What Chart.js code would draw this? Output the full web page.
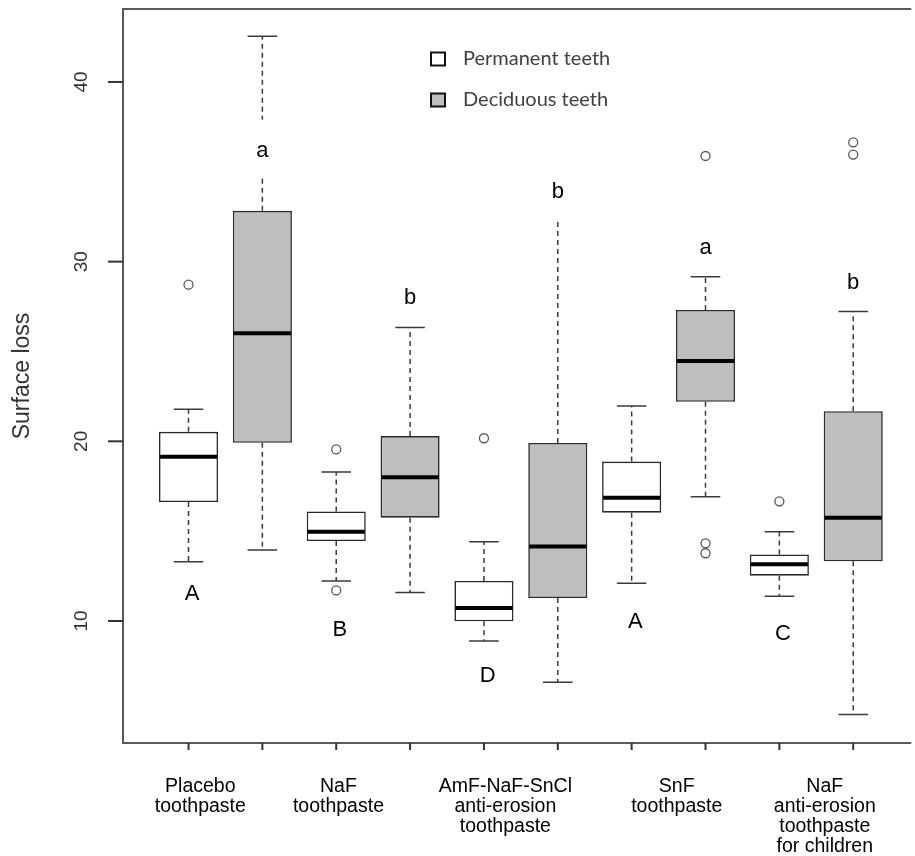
<!DOCTYPE html>
<html><head><meta charset="utf-8">
<script src="https://cdn.jsdelivr.net/npm/chart.js@4/dist/chart.umd.min.js"></script>
<style>html,body{margin:0;padding:0;background:#fff;overflow:hidden}#wrap{width:915px;height:856px}</style>
</head><body><div id="wrap"><canvas id="c" width="915" height="856"></canvas></div>
<script>
// ---------- data ----------
const treatments = [["Placebo","toothpaste"],["NaF","toothpaste"],["AmF-NaF-SnCl","anti-erosion","toothpaste"],["SnF","toothpaste"],["NaF","anti-erosion","toothpaste","for children"]];
const treatmentLabelX = [1.16, 3.03, 5.29, 7.61, 9.615];
const groups = ["Permanent teeth","Deciduous teeth"];
// 10 boxes: alternating permanent / deciduous per treatment
const whiskerLow  = [13.30, 13.95, 12.23, 11.58,  8.89,  6.59, 12.10, 16.92, 11.38,  4.80];
const q1          = [16.62, 19.92, 14.45, 15.75,  9.98, 11.28, 16.03, 22.20, 12.52, 13.32];
const median      = [19.14, 26.01, 14.97, 18.00, 10.73, 14.15, 16.86, 24.47, 13.16, 15.74];
const q3          = [20.53, 32.83, 16.10, 20.29, 12.23, 19.91, 18.87, 27.31, 13.70, 21.68];
const whiskerHigh = [21.78, 42.55, 18.29, 26.34, 14.41, 34.20, 21.96, 29.16, 14.97, 27.22];
const outliers    = [[28.72], [], [19.55, 11.70], [], [20.17], [], [], [35.88, 14.32, 13.77], [16.66], [36.64, 35.96]];
const letters     = ["A","a","B","b","D","b","A","a","C","b"];
const letterBaseline = [11.17, 35.84, 9.17, 27.64, 6.62, 33.54, 9.62, 30.42, 8.94, 28.48];
const yTicks = [10, 20, 30, 40];
const yTitle = "Surface loss";

// ---------- build ----------
const boxPos = whiskerLow.map((_, i) => i + 1);
const permIdx = boxPos.filter((_, i) => i % 2 === 0).map(p => p - 1);
const decIdx  = boxPos.filter((_, i) => i % 2 === 1).map(p => p - 1);
const boxData = idx => idx.map(i => ({x: boxPos[i], y: [q1[i], q3[i]]}));
const outlierData = outliers.flatMap((arr, i) => arr.map(v => ({x: boxPos[i], y: v})));

const FILL_PERM = '#ffffff', FILL_DEC = '#bebebe', EDGE = '#2a2a2a', AXIS = '#5a5a5a';
const SANS = '"Liberation Sans", Arial, sans-serif';

const boxPlugin = {
  id: 'boxParts',
  beforeDatasetsDraw(chart) {
    const {ctx, scales: {x, y}} = chart;
    ctx.save();
    ctx.strokeStyle = '#3a3a3a';
    ctx.lineWidth = 1.5;
    boxPos.forEach((p, i) => {
      const cx = x.getPixelForValue(p);
      const half = (x.getPixelForValue(p + 0.2) - x.getPixelForValue(p - 0.2)) / 2;
      ctx.setLineDash([5, 4]);
      ctx.beginPath();
      ctx.moveTo(cx, y.getPixelForValue(q3[i])); ctx.lineTo(cx, y.getPixelForValue(whiskerHigh[i]));
      ctx.moveTo(cx, y.getPixelForValue(q1[i])); ctx.lineTo(cx, y.getPixelForValue(whiskerLow[i]));
      ctx.stroke();
      ctx.setLineDash([]);
      ctx.beginPath();
      const yh = y.getPixelForValue(whiskerHigh[i]), yl = y.getPixelForValue(whiskerLow[i]);
      ctx.moveTo(cx - half, yh); ctx.lineTo(cx + half, yh);
      ctx.moveTo(cx - half, yl); ctx.lineTo(cx + half, yl);
      ctx.stroke();
    });
    ctx.restore();
  },
  afterDatasetsDraw(chart) {
    const {ctx, chartArea: ca, scales: {x, y}} = chart;
    ctx.save();
    // medians
    ctx.strokeStyle = '#000';
    ctx.lineWidth = 4;
    boxPos.forEach((p, i) => {
      const l = x.getPixelForValue(p - 0.4) + 1, r = x.getPixelForValue(p + 0.4) - 1;
      const ym = y.getPixelForValue(median[i]);
      ctx.beginPath(); ctx.moveTo(l, ym); ctx.lineTo(r, ym); ctx.stroke();
    });
    // letters
    ctx.font = '22px ' + SANS;
    ctx.textAlign = 'center';
    ctx.textBaseline = 'alphabetic';
    letters.forEach((t, i) => {
      const dx = t === t.toUpperCase() ? 0.05 : 0;
      const cx = x.getPixelForValue(boxPos[i] + dx);
      const by = y.getPixelForValue(letterBaseline[i]);
      ctx.fillStyle = '#fff';
      ctx.fillRect(cx - 18, by - 37, 36, 57);
      ctx.fillStyle = '#000';
      ctx.fillText(t, cx, by);
    });
    // frame
    ctx.strokeStyle = AXIS;
    ctx.lineWidth = 2;
    ctx.beginPath();
    ctx.moveTo(ca.right + 2, ca.top); ctx.lineTo(ca.left, ca.top); ctx.lineTo(ca.left, ca.bottom); ctx.lineTo(ca.right + 2, ca.bottom);
    ctx.stroke();
    // y ticks + labels
    ctx.strokeStyle = '#333';
    ctx.fillStyle = '#333';
    ctx.font = '19px ' + SANS;
    ctx.textBaseline = 'middle';
    yTicks.forEach(v => {
      const py = y.getPixelForValue(v);
      ctx.beginPath(); ctx.moveTo(ca.left - 15, py); ctx.lineTo(ca.left, py); ctx.stroke();
      ctx.save(); ctx.translate(ca.left - 41, py); ctx.rotate(-Math.PI / 2); ctx.fillText(String(v), 0, 0); ctx.restore();
    });
    // x ticks
    boxPos.forEach(p => {
      const px = x.getPixelForValue(p);
      ctx.beginPath(); ctx.moveTo(px, ca.bottom); ctx.lineTo(px, ca.bottom + 7); ctx.stroke();
    });
    // y title
    ctx.font = '23px ' + SANS;
    ctx.save(); ctx.translate(23, 376); ctx.rotate(-Math.PI / 2); ctx.fillText(yTitle, 0, 0); ctx.restore();
    // category labels
    ctx.font = '19.5px ' + SANS;
    ctx.fillStyle = '#000';
    treatments.forEach((lines, k) => {
      const px = x.getPixelForValue(treatmentLabelX[k]);
      lines.forEach((ln, j) => ctx.fillText(ln, px, ca.bottom + 44 + j * 20));
    });
    // legend
    ctx.font = '20px Lato, "Open Sans", sans-serif';
    ctx.textAlign = 'left';
    ctx.lineWidth = 2;
    ctx.strokeStyle = '#111';
    groups.forEach((g, j) => {
      const ly = 59 + j * 41;
      ctx.fillStyle = j === 0 ? FILL_PERM : FILL_DEC;
      ctx.fillRect(431, ly - 6.5, 14, 13);
      ctx.strokeRect(431, ly - 6.5, 14, 13);
      ctx.fillStyle = '#404040';
      ctx.fillText(g, 463, ly);
    });
    ctx.restore();
  }
};

new Chart(document.getElementById('c'), {
  data: {
    datasets: [
      {type: 'bar', label: groups[0], data: boxData(permIdx), backgroundColor: FILL_PERM, borderColor: EDGE, borderWidth: 1.6, borderSkipped: false, grouped: false, categoryPercentage: 1, barPercentage: 0.8, order: 2},
      {type: 'bar', label: groups[1], data: boxData(decIdx), backgroundColor: FILL_DEC, borderColor: EDGE, borderWidth: 1.6, borderSkipped: false, grouped: false, categoryPercentage: 1, barPercentage: 0.8, order: 2},
      {type: 'scatter', label: 'outliers', data: outlierData, pointStyle: 'circle', pointRadius: 4.5, borderColor: '#555', backgroundColor: 'rgba(0,0,0,0)', borderWidth: 1.3, order: 1}
    ]
  },
  options: {
    responsive: false,
    devicePixelRatio: 1,
    animation: false,
    layout: {padding: {left: 123, right: 0, top: 9, bottom: 113}},
    plugins: {legend: {display: false}, tooltip: {enabled: false}},
    scales: {
      x: {type: 'linear', offset: false, min: 0.113, max: 10.758, display: false},
      y: {type: 'linear', min: 3.21, max: 44.06, display: false}
    }
  },
  plugins: [boxPlugin]
});
</script></body></html>
